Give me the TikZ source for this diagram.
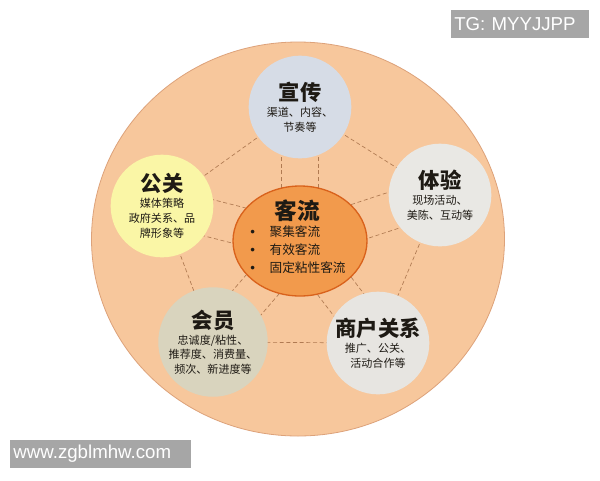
\documentclass[tikz,border=0pt]{standalone}
\usepackage{fontspec}
\setmainfont{Liberation Sans}
\newfontfamily\cjk{Noto Sans CJK SC}
\usetikzlibrary{calc,shapes.geometric}
\pgfdeclarelayer{bg}
\pgfdeclarelayer{mid}
\pgfsetlayers{bg,mid,main}
\definecolor{peach}{HTML}{F7C79C}
\definecolor{peachline}{HTML}{DDA27A}
\definecolor{dashc}{HTML}{B07A52}
\definecolor{c1}{HTML}{D6DCE6}
\definecolor{c2}{HTML}{FAF6A6}
\definecolor{c3}{HTML}{E9E8E4}
\definecolor{c4}{HTML}{D9D4BE}
\definecolor{c5}{HTML}{E7E5E1}
\definecolor{orangec}{HTML}{F29A4C}
\definecolor{orangeline}{HTML}{D9621C}
\definecolor{txt}{HTML}{1E1A14}
\definecolor{wm}{HTML}{A6A6A6}
\tikzset{
  sat/.style={circle, draw=none, minimum size=77pt, inner sep=0pt, align=center, text=txt, font=\cjk\fontsize{8.3}{11}\selectfont},
  link/.style={draw=dashc, line width=0.5pt, dash pattern=on 3pt off 2pt},
  wmbox/.style={fill=wm, text=white, inner sep=0pt, font=\fontsize{14}{16}\selectfont, anchor=west},
  bul/.style={text=txt, font=\cjk\fontsize{9.5}{11}\selectfont, anchor=west, inner sep=0pt}
}
\newcommand{\bdot}{{\fontspec{Liberation Sans}\fontsize{10}{11}\selectfont\textbullet}}
\begin{document}
\begin{tikzpicture}[x=0.75pt,y=-0.75pt]
\useasboundingbox (0,0) rectangle (600,480);
\begin{pgfonlayer}{bg}
\fill[white] (0,0) rectangle (600,480);
\node[ellipse, draw=peachline, line width=0.6pt, fill=peach, minimum width=309.75pt, minimum height=295.5pt, inner sep=0pt] (big) at (298,239) {};
\end{pgfonlayer}
\node[ellipse, draw=orangeline, line width=1pt, fill=orangec, minimum width=100.5pt, minimum height=82.5pt, inner sep=0pt] (c) at (300,241) {};
\node[sat, fill=c1] (s1) at (300,107) {{\fontsize{16}{18}\selectfont\bfseries 宣传}\\[1pt] 渠道、内容、\\ 节奏等};
\node[sat, fill=c2] (s2) at (162,206) {{\fontsize{16}{18}\selectfont\bfseries 公关}\\[1pt] 媒体策略\\ 政府关系、品\\ 牌形象等};
\node[sat, fill=c3] (s3) at (440,195) {{\fontsize{16}{18}\selectfont\bfseries 体验}\\[1pt] 现场活动、\\ 美陈、互动等};
\node[sat, fill=c4] (s4) at (213,342) {{\fontsize{16}{18}\selectfont\bfseries 会员}\\[1pt] 忠诚度/粘性、\\ 推荐度、消费量、\\ 频次、新进度等};
\node[sat, fill=c5] (s5) at (378,343) {{\fontsize{16}{18}\selectfont\bfseries 商户关系}\\[1pt] 推广、公关、\\ 活动合作等};
\node[text=txt, font=\cjk\bfseries\fontsize{17}{19}\selectfont] (ct) at (297,211) {客流};
\node[bul] (b1) at (250,232) {\bdot\hspace{11pt}聚集客流};
\node[bul] (b2) at (250,250) {\bdot\hspace{11pt}有效客流};
\node[bul] (b3) at (250,268) {\bdot\hspace{11pt}固定粘性客流};
\begin{pgfonlayer}{mid}
% ring connectors
\draw[link] (s1.center) -- (s2.center);
\draw[link] (s1.center) -- (s3.center);
\draw[link] (s2.center) -- (s4.center);
\draw[link] (s3.center) -- (s5.center);
\draw[link] (s4.center) -- (s5.center);
% spokes to the centre
\foreach \s in {s1,s2,s3,s4,s5}{
  \draw[link] ($(c.center)!14pt!90:(\s.center)$) -- ($(\s.center)!14pt!-90:(c.center)$);
  \draw[link] ($(c.center)!14pt!-90:(\s.center)$) -- ($(\s.center)!14pt!90:(c.center)$);
}
\end{pgfonlayer}
\node[wmbox, minimum width=103.5pt, minimum height=21.5pt, text width=101pt, align=left] (wm1) at (451,24) {\hspace{1pt}TG: MYYJJPP};
\node[wmbox, minimum width=135.75pt, minimum height=21.5pt, text width=133pt, align=left] (wm2) at (10,454) {\hspace{1pt}www.zgblmhw.com};
\end{tikzpicture}
\end{document}
